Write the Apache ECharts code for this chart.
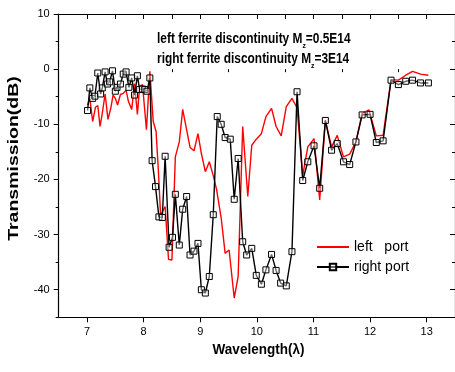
<!DOCTYPE html>
<html>
<head>
<meta charset="utf-8">
<script src="https://cdn.jsdelivr.net/npm/echarts@6/dist/echarts.min.js"></script>
<style>
html, body { margin: 0; padding: 0; background: #fff; }
#chart { width: 455px; height: 372px; }
</style>
</head>
<body>
<div id="chart"></div>
<script>
// left port (red)
const leftX = [7.01,7.05,7.10,7.15,7.19,7.23,7.27,7.32,7.37,7.42,7.46,7.50,7.54,7.59,7.64,7.69,7.73,7.79,7.84,7.89,7.93,7.98,8.05,8.11,
  8.17,8.22,8.26,8.30,8.38,8.44,8.50,
  8.56,8.63,8.69,8.76,8.82,8.89,8.96,9.02,9.09,9.16,9.23,9.29,
  9.37,9.44,9.51,9.60,9.67,9.75,9.84,9.91,9.99,10.08,10.16,
  10.26,10.34,10.43,10.52,10.62,10.71,10.81,10.90,11.01,11.11,11.21,11.32,11.42,11.53,11.64,11.75,11.86,11.98,12.11,12.23,
  12.37,12.50,12.63,12.75,12.89,13.03];
const leftY = [-6.5,-5.4,-9.5,-6.9,-6.6,-10.4,-8.0,-4.5,-9.1,-7.1,-4.7,-5.3,-6.5,-4.6,-4.4,-3.8,-5.8,-7.3,-2.6,-8.2,-3.1,-2.8,-11.0,-0.4,
  -9.5,-11.3,-18.3,-26.5,-24.9,-34.5,-34.6,
  -15.9,-13.2,-7.3,-11.0,-14.2,-14.8,-11.7,-15.3,-18.6,-16.8,-19.3,-21.9,
  -27.0,-33.4,-32.8,-41.5,-37.6,-10.4,-23.1,-13.8,-12.7,-11.7,-8.6,
  -7.1,-10.4,-12.1,-6.8,-5.3,-7.0,-19.3,-14.1,-12.6,-23.7,-9.3,-14.1,-12.0,-15.9,-15.4,-13.2,-8.0,-7.4,-12.1,-12.0,
  -1.9,-2.0,-1.1,-0.4,-0.9,-1.1];

// right port (black, squares)
const rightX = [7.01,7.05,7.10,7.14,7.19,7.24,7.27,7.32,7.36,7.40,7.45,7.50,7.53,7.59,7.64,7.69,7.74,7.79,7.84,7.89,7.93,7.98,8.02,8.06,8.11,
  8.15,8.21,8.27,8.33,8.38,8.45,8.51,8.56,8.63,8.69,8.76,8.82,8.89,8.96,9.02,9.09,9.16,9.23,9.30,
  9.37,9.44,9.53,9.60,9.67,9.75,9.82,9.91,9.99,10.08,10.16,
  10.26,10.34,10.42,10.52,10.62,10.71,10.81,10.90,11.01,11.11,11.21,11.32,11.42,11.53,11.64,11.75,11.86,12.00,12.11,12.23,
  12.37,12.50,12.63,12.75,12.89,13.03];
const rightY = [-7.5,-3.4,-5.3,-4.9,-0.7,-4.5,-3.4,-0.5,-2.7,-2.3,-0.3,-4.0,-3.3,-2.7,-0.9,-0.5,-3.3,-1.6,-4.7,-1.2,-3.7,-3.6,-3.7,-4.0,-1.6,
  -16.6,-21.3,-26.8,-26.9,-15.8,-32.3,-30.5,-22.7,-31.9,-25.4,-23.1,-33.7,-33.0,-31.6,-40.0,-40.6,-37.6,-26.4,-8.6,
  -10.0,-12.4,-12.7,-23.6,-16.2,-31.3,-33.7,-32.5,-37.4,-39.0,-36.4,
  -33.6,-36.5,-38.8,-39.3,-33.1,-4.1,-20.2,-16.8,-13.9,-21.6,-9.3,-14.7,-13.5,-16.8,-17.3,-13.2,-8.3,-8.2,-13.3,-13.0,
  -2.0,-2.8,-2.2,-2.0,-2.5,-2.5];

const seriesNames = ['left   port', 'right port'];
const xTicks = [7, 8, 9, 10, 11, 12, 13];
const xMinorTicks = [7.5, 8.5, 9.5, 10.5, 11.5, 12.5];
const yTicks = [-40, -30, -20, -10, 0, 10];
const yMinorTicks = [-45, -35, -25, -15, -5, 5];

const FONT = '"Liberation Sans", Arial, sans-serif';

function zip(xs, ys) {
  return xs.map((x, i) => [x, ys[i]]);
}

function axisBase(extra) {
  return Object.assign({
    type: 'value',
    splitLine: {show: false},
    axisLine: {show: false},
    axisLabel: {show: false},
    axisTick: {show: false}
  }, extra);
}

const chart = echarts.init(document.getElementById('chart'));
chart.setOption({
  animation: false,
  backgroundColor: '#fff',
  grid: {left: 58.7, top: 14, right: -1.7, bottom: 54.7, containLabel: false},
  xAxis: [
    axisBase({
      min: 6.5, max: 13.5, position: 'bottom',
      axisLine: {show: true, onZero: false, lineStyle: {color: '#000', width: 1.2}},
      axisTick: {show: true, customValues: xTicks, length: 5, lineStyle: {color: '#000', width: 1}},
      axisLabel: {show: true, customValues: xTicks, fontSize: 11, color: '#000', margin: 9, fontFamily: FONT}
    }),
    axisBase({
      min: 6.5, max: 13.5, position: 'bottom',
      axisTick: {show: true, customValues: xMinorTicks, length: 3, lineStyle: {color: '#000', width: 1}}
    }),
    axisBase({
      min: 6.5, max: 13.5, position: 'top',
      axisLine: {show: true, onZero: false, lineStyle: {color: '#000', width: 1.2}},
      axisTick: {show: true, inside: true, customValues: xTicks.concat(xMinorTicks), length: 5, lineStyle: {color: '#000', width: 1}}
    })
  ],
  yAxis: [
    axisBase({
      min: -45, max: 10, position: 'left',
      axisLine: {show: true, onZero: false, lineStyle: {color: '#000', width: 1.2}},
      axisTick: {show: true, customValues: yTicks, length: 5, lineStyle: {color: '#000', width: 1}},
      axisLabel: {show: true, customValues: yTicks, fontSize: 11, color: '#000', margin: 9, fontFamily: FONT}
    }),
    axisBase({
      min: -45, max: 10, position: 'left',
      axisTick: {show: true, customValues: yMinorTicks, length: 3, lineStyle: {color: '#000', width: 1}}
    }),
    axisBase({
      min: -45, max: 10, position: 'right',
      axisLine: {show: true, onZero: false, lineStyle: {color: '#000', width: 1.2}},
      axisTick: {show: true, inside: true, customValues: yTicks, length: 5, lineStyle: {color: '#000', width: 1}}
    }),
    axisBase({
      min: -45, max: 10, position: 'right',
      axisTick: {show: true, inside: true, customValues: yMinorTicks, length: 3, lineStyle: {color: '#000', width: 1}}
    })
  ],
  legend: {
    orient: 'vertical',
    left: 316,
    top: 240,
    itemWidth: 32,
    itemHeight: 8,
    itemGap: 6,
    padding: 0,
    data: [
      // plain line, no marker for the red curve
      {name: seriesNames[0], itemStyle: {color: 'rgba(0,0,0,0)', borderColor: 'rgba(0,0,0,0)', borderWidth: 0}},
      seriesNames[1]
    ],
    textStyle: {fontSize: 14, color: '#000', fontFamily: FONT}
  },
  series: [
    {
      name: seriesNames[0],
      type: 'line',
      data: zip(leftX, leftY),
      symbol: 'none',
      color: '#ff0000',
      lineStyle: {color: '#ff0000', width: 1.4}
    },
    {
      name: seriesNames[1],
      type: 'line',
      data: zip(rightX, rightY),
      symbol: 'rect',
      symbolSize: 6,
      color: '#000',
      lineStyle: {color: '#000', width: 1.4},
      itemStyle: {color: 'rgba(255,255,255,0.4)', borderColor: '#000', borderWidth: 1}
    }
  ],
  graphic: [
    {
      type: 'text', x: 157, y: 39.5, scaleX: 0.85,
      style: {
        text: 'left ferrite discontinuity M{sub|z}=0.5E14',
        font: 'bold 14px ' + FONT, fill: '#000', verticalAlign: 'middle', lineHeight: 20,
        rich: {sub: {fontSize: 8, fontWeight: 'bold', fontFamily: FONT, verticalAlign: 'bottom', lineHeight: 20}}
      }
    },
    {
      type: 'text', x: 157, y: 59.5, scaleX: 0.85,
      style: {
        text: 'right ferrite discontinuity M{sub|z}=3E14',
        font: 'bold 14px ' + FONT, fill: '#000', verticalAlign: 'middle', lineHeight: 20,
        rich: {sub: {fontSize: 8, fontWeight: 'bold', fontFamily: FONT, verticalAlign: 'bottom', lineHeight: 20}}
      }
    },
    {
      type: 'text', x: 14, y: 158.5, rotation: Math.PI / 2, scaleX: 1.3,
      style: {text: 'Transmission(dB)', font: 'bold 15px ' + FONT, fill: '#000', align: 'center', verticalAlign: 'middle'}
    },
    {
      type: 'text', x: 258.5, y: 350, scaleX: 0.9,
      style: {text: 'Wavelength(λ)', font: 'bold 15px ' + FONT, fill: '#000', align: 'center', verticalAlign: 'middle'}
    }
  ]
});
</script>
</body>
</html>
